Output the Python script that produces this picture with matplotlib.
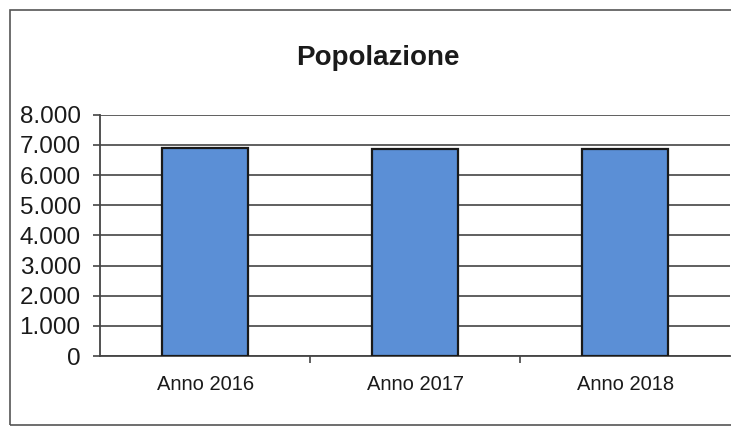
import matplotlib.pyplot as plt
from matplotlib.patches import Rectangle
from matplotlib.ticker import FuncFormatter, FixedLocator

# --- DATI ---
anni = ['Anno 2016', 'Anno 2017', 'Anno 2018']
popolazione = [6900, 6880, 6860]
y_ticks = [0, 1000, 2000, 3000, 4000, 5000, 6000, 7000, 8000]

plt.rcParams['font.family'] = ['Liberation Sans', 'DejaVu Sans']

fig = plt.figure(figsize=(7.31, 4.30), dpi=100)
ax = fig.add_axes([0.137, 0.172, 0.862, 0.561])

# cornice esterna del grafico
fig.patches.append(Rectangle((0.013, 0.012), 1.0, 0.965, transform=fig.transFigure,
                             fill=False, edgecolor='#555555', linewidth=1.2))

x = range(len(anni))
ax.bar(x, popolazione, width=0.41, color='#5b8fd6', edgecolor='#1a1a1a',
       linewidth=1.6, zorder=3)

ax.set_xlim(-0.5, len(anni) - 0.5)
ax.set_ylim(0, 8000)
ax.set_yticks(y_ticks)
ax.yaxis.set_major_formatter(FuncFormatter(lambda v, p: f'{int(v):,}'.replace(',', '.')))
ax.grid(True, axis='y', color='#444444', linewidth=1.2, zorder=0)

ax.set_xticks(list(x))
ax.set_xticklabels(anni, fontsize=14.5, color='#1a1a1a')
ax.xaxis.set_minor_locator(FixedLocator([0.5, 1.5]))
ax.tick_params(axis='x', which='major', length=0, pad=14)
ax.tick_params(axis='x', which='minor', length=5, width=1.2, color='#444444', direction='out')
ax.tick_params(axis='y', labelsize=17.5, length=5, width=1.2, color='#444444',
               labelcolor='#1a1a1a', pad=9)

for s in ['top', 'right']:
    ax.spines[s].set_visible(False)
for s in ['left', 'bottom']:
    ax.spines[s].set_color('#444444')
    ax.spines[s].set_linewidth(1.3)

fig.text(0.517, 0.865, 'Popolazione', ha='center', va='center',
         fontsize=20, fontweight='bold', color='#1a1a1a')

fig.savefig('out.png', dpi=100)
